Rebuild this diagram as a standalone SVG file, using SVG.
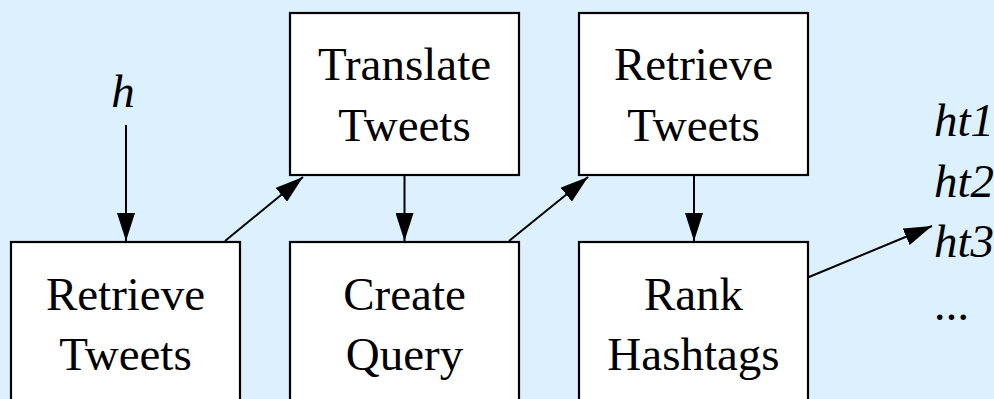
<svg xmlns="http://www.w3.org/2000/svg" width="994" height="399" viewBox="0 0 994 399">
<style>
.box{fill:#ffffff;stroke:#000000;stroke-width:2.2}
.lbl{font-family:"Liberation Serif","DejaVu Serif","Noto Serif",serif;font-size:47px;fill:#000;text-anchor:middle}
.it{font-family:"Liberation Serif","DejaVu Serif","Noto Serif",serif;font-size:47px;font-style:italic;fill:#000}
.edge{stroke:#000;stroke-width:2;fill:none;marker-end:url(#ah)}
</style>
<defs>
<marker id="ah" viewBox="0 0 28 18" refX="28" refY="9" markerWidth="28" markerHeight="18" markerUnits="userSpaceOnUse" orient="auto">
<path d="M0,0 L28,9 L0,18 Z" fill="#000"/>
</marker>
</defs>
<rect x="0" y="0" width="994" height="399" fill="#dcf0fe"/>
<g id="connectors">
<line class="edge" x1="126" y1="125" x2="126" y2="241"/>
<line class="edge" x1="225" y1="241" x2="303" y2="177"/>
<line class="edge" x1="404.5" y1="176" x2="404.5" y2="241"/>
<line class="edge" x1="509" y1="241" x2="588" y2="177"/>
<line class="edge" x1="694" y1="176" x2="694" y2="241"/>
<line class="edge" x1="809" y1="277" x2="932" y2="226"/>
</g>
<g id="input-h"><text class="it" x="123" y="107" text-anchor="middle">h</text></g>
<g id="node-retrieve1">
<rect class="box" x="11" y="242" width="229" height="200"/>
<text class="lbl" x="125.5" y="310">Retrieve</text>
<text class="lbl" x="125.5" y="370">Tweets</text>
</g>
<g id="node-translate">
<rect class="box" x="290" y="13" width="229" height="162"/>
<text class="lbl" x="404.5" y="80">Translate</text>
<text class="lbl" x="404.5" y="141">Tweets</text>
</g>
<g id="node-query">
<rect class="box" x="290" y="242" width="229" height="200"/>
<text class="lbl" x="404.5" y="310">Create</text>
<text class="lbl" x="404.5" y="370">Query</text>
</g>
<g id="node-retrieve2">
<rect class="box" x="579" y="13" width="229" height="162"/>
<text class="lbl" x="693.5" y="80">Retrieve</text>
<text class="lbl" x="693.5" y="141">Tweets</text>
</g>
<g id="node-rank">
<rect class="box" x="579" y="242" width="229" height="200"/>
<text class="lbl" x="693.5" y="310">Rank</text>
<text class="lbl" x="693.5" y="370">Hashtags</text>
</g>
<g id="output">
<text class="it" x="934" y="136">ht1</text>
<text class="it" x="934" y="197">ht2</text>
<text class="it" x="934" y="257">ht3</text>
<text class="it" x="935" y="320">...</text>
</g>
</svg>
